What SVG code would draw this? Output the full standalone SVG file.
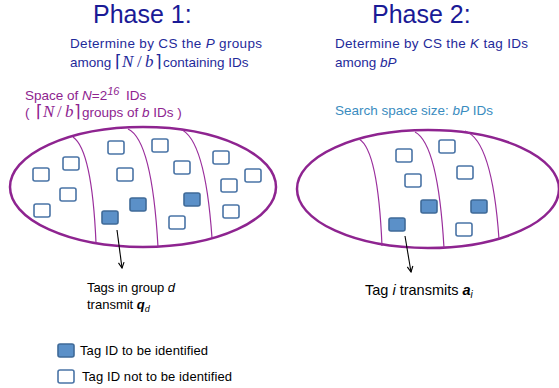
<svg xmlns="http://www.w3.org/2000/svg" width="559" height="388" viewBox="0 0 559 388">
<defs>
<style>
.ph{font-family:"Liberation Sans",Arial,sans-serif;font-size:25px;fill:#1a1a96}
.db{font-family:"Liberation Sans",Arial,sans-serif;font-size:13.5px;fill:#1f2a9a}
.pu{font-family:"Liberation Sans",Arial,sans-serif;font-size:13.5px;fill:#8e2490}
.sb{font-family:"Liberation Sans",Arial,sans-serif;font-size:13.5px;fill:#3a8cc0}
.bk{font-family:"Liberation Sans",Arial,sans-serif;font-size:13px;fill:#000}
.bk2{font-family:"Liberation Sans",Arial,sans-serif;font-size:14.5px;fill:#000}
.m{font-family:"Liberation Serif","Times New Roman",serif;font-style:italic;font-size:17px}
.mb{font-family:"Liberation Serif","Times New Roman",serif;font-size:17px}
.ell{fill:none;stroke:#8e2490;stroke-width:2.5}
.div{fill:none;stroke:#9a2e9c;stroke-width:1.2}
.e{fill:#fff;stroke:#4a74a6;stroke-width:1.6}
.f{fill:#5b90c8;stroke:#3f6a98;stroke-width:1.6}
.ar{fill:none;stroke:#000;stroke-width:1.1;marker-end:url(#ah)}
</style>
<marker id="ah" viewBox="0 0 10 10" refX="9" refY="5" markerWidth="7" markerHeight="7" orient="auto-start-reverse" markerUnits="userSpaceOnUse">
<path d="M1,1 L9,5 L1,9" fill="none" stroke="#000" stroke-width="1.6"/>
</marker>
</defs>

<g id="phase1-title"><text class="ph" x="93" y="23">Phase 1:</text></g>
<g id="phase2-title"><text class="ph" x="372" y="23">Phase 2:</text></g>

<g id="phase1-desc">
<text class="db" x="70" y="48" textLength="192">Determine by CS the <tspan font-style="italic">P</tspan> groups</text>
<text class="db" x="70" y="67">among <tspan class="mb" x="115">⌈</tspan><tspan class="m" x="122">N</tspan><tspan class="mb" x="137">/</tspan><tspan class="m" x="145">b</tspan><tspan class="mb" x="155">⌉</tspan><tspan x="163">containing IDs</tspan></text>
</g>
<g id="phase2-desc">
<text class="db" x="335" y="48" textLength="193">Determine by CS the <tspan font-style="italic">K</tspan> tag IDs</text>
<text class="db" x="335" y="67">among <tspan font-style="italic">bP</tspan></text>
</g>

<g id="space-label">
<text class="pu" x="25" y="100">Space of <tspan font-style="italic">N</tspan>=2<tspan font-style="italic" font-size="11" dy="-5">16</tspan><tspan dy="5" x="126">IDs</tspan></text>
<text class="pu" x="25" y="117">( <tspan class="mb" x="36">⌈</tspan><tspan class="m" x="43">N</tspan><tspan class="mb" x="57">/</tspan><tspan class="m" x="65">b</tspan><tspan class="mb" x="74">⌉</tspan><tspan x="82">groups of </tspan><tspan font-style="italic">b</tspan> IDs )</text>
</g>
<g id="search-label">
<text class="sb" x="335" y="115" textLength="158">Search space size: <tspan font-style="italic">bP</tspan> IDs</text>
</g>

<g id="space1">
<ellipse class="ell" cx="143" cy="187" rx="133" ry="60"/>
<path class="div" d="M73,137 Q92,150 96,243"/>
<path class="div" d="M128,129 Q152,140 158,247"/>
<path class="div" d="M180,129 Q205,138 212,238"/>
<rect class="e" x="33" y="168" width="16" height="13" rx="2"/>
<rect class="e" x="63" y="157" width="16" height="13" rx="2"/>
<rect class="e" x="60" y="188" width="16" height="13" rx="2"/>
<rect class="e" x="34" y="204" width="16" height="13" rx="2"/>
<rect class="e" x="108" y="141" width="16" height="13" rx="2"/>
<rect class="e" x="117" y="168" width="16" height="13" rx="2"/>
<rect class="e" x="152" y="139" width="16" height="13" rx="2"/>
<rect class="e" x="174" y="161" width="16" height="13" rx="2"/>
<rect class="e" x="169" y="216" width="16" height="13" rx="2"/>
<rect class="e" x="213" y="151" width="16" height="13" rx="2"/>
<rect class="e" x="245" y="169" width="16" height="13" rx="2"/>
<rect class="e" x="221" y="179" width="16" height="13" rx="2"/>
<rect class="e" x="223" y="205" width="16" height="13" rx="2"/>
<rect class="f" x="102" y="211" width="16" height="13" rx="2"/>
<rect class="f" x="130" y="198" width="16" height="13" rx="2"/>
<rect class="f" x="184" y="193" width="16" height="13" rx="2"/>
</g>

<g id="space2">
<ellipse class="ell" cx="428" cy="189" rx="131" ry="59"/>
<path class="div" d="M359,139 Q378,150 382,246"/>
<path class="div" d="M415,132 Q438,144 444,248"/>
<path class="div" d="M465,131 Q492,140 499,239"/>
<rect class="e" x="396" y="149" width="16" height="13" rx="2"/>
<rect class="e" x="439" y="140" width="16" height="13" rx="2"/>
<rect class="e" x="405" y="174" width="16" height="13" rx="2"/>
<rect class="e" x="457" y="166" width="16" height="13" rx="2"/>
<rect class="e" x="456" y="223" width="16" height="13" rx="2"/>
<rect class="f" x="421" y="200" width="16" height="13" rx="2"/>
<rect class="f" x="471" y="200" width="16" height="13" rx="2"/>
<rect class="f" x="389" y="218" width="16" height="13" rx="2"/>
</g>

<g id="connectors">
<path class="ar" d="M117,230 L122,268"/>
<path class="ar" d="M405,236 L411,272"/>
</g>

<g id="note1">
<text class="bk" x="87" y="292" textLength="88">Tags in group <tspan font-style="italic">d</tspan></text>
<text class="bk" x="87" y="309">transmit <tspan font-weight="bold" font-style="italic">q</tspan><tspan font-style="italic" font-size="9" dy="3">d</tspan></text>
</g>
<g id="note2">
<text class="bk2" x="365" y="295">Tag <tspan font-style="italic">i</tspan> transmits <tspan font-weight="bold" font-style="italic">a</tspan><tspan font-style="italic" font-size="10" dy="3">i</tspan></text>
</g>

<g id="legend">
<rect class="f" x="58" y="344" width="16" height="13" rx="2"/>
<text class="bk" x="80" y="355" textLength="128">Tag ID to be identified</text>
<rect class="e" x="58" y="370" width="16" height="13" rx="2"/>
<text class="bk" x="82" y="381" textLength="150">Tag ID not to be identified</text>
</g>
</svg>
